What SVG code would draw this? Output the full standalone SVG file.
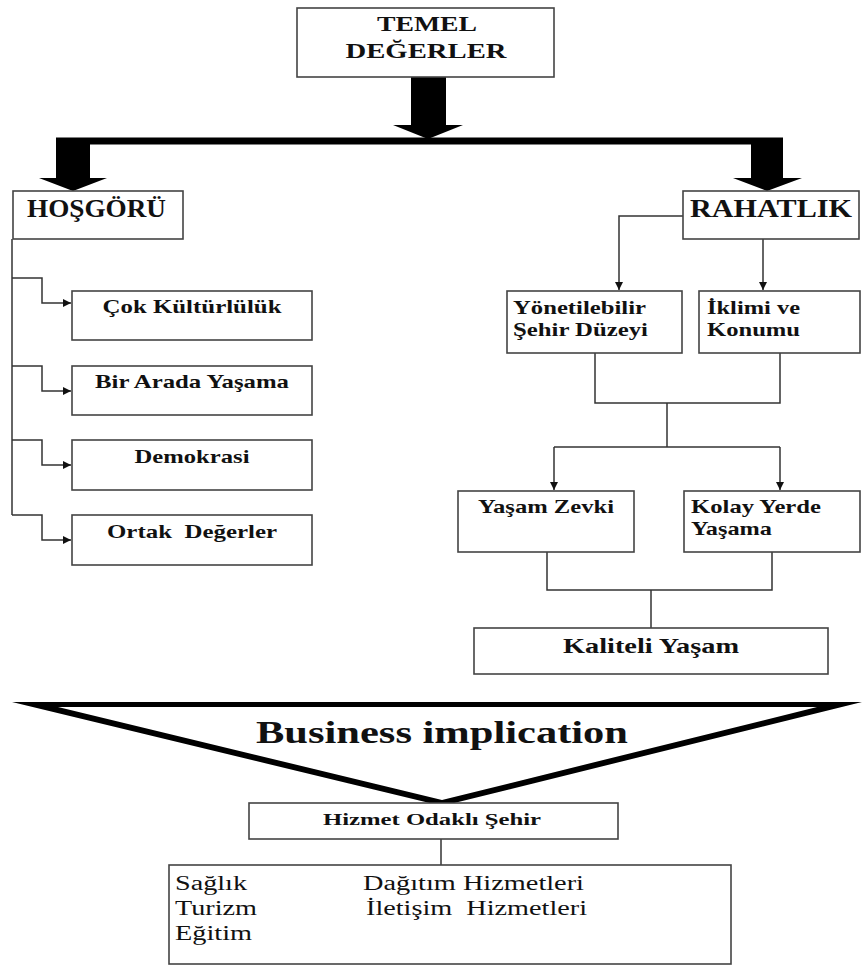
<svg xmlns="http://www.w3.org/2000/svg" width="862" height="966" viewBox="0 0 862 966">
<style>
.box{fill:#fff;stroke:#444;stroke-width:1.6}
.ln{fill:none;stroke:#333;stroke-width:1.5}
.b{font-family:"Liberation Serif","Times New Roman",serif;font-weight:bold;fill:#111}
.r{font-family:"Liberation Serif","Times New Roman",serif;fill:#111}
</style>
<defs>
<marker id="ah" viewBox="0 0 10 10" refX="10" refY="5" markerWidth="8" markerHeight="8" markerUnits="userSpaceOnUse" orient="auto">
<path d="M0,0 L10,5 L0,10 Z" fill="#111"/>
</marker>
</defs>
<rect width="862" height="966" fill="#fff"/>

<g id="connectors">
<path d="M411,77 H446 V125 H463 L428,139 L393,125 H411 Z" fill="#000"/>
<rect x="56" y="137.5" width="727" height="7" fill="#000"/>
<path d="M56,138 H90 V178 H107 L73,191 L39,178 H56 Z" fill="#000"/>
<path d="M751,138 H783 V178 H802 L767,191 L733,178 H751 Z" fill="#000"/>
<path class="ln" d="M12,239 V515"/>
<path class="ln" d="M12,278 H42 V303 H71" marker-end="url(#ah)"/>
<path class="ln" d="M12,366 H42 V391 H71" marker-end="url(#ah)"/>
<path class="ln" d="M12,440 H42 V465 H71" marker-end="url(#ah)"/>
<path class="ln" d="M12,515 H42 V540 H71" marker-end="url(#ah)"/>
<path class="ln" d="M683,216 H619 V290" marker-end="url(#ah)"/>
<path class="ln" d="M763,239 V290" marker-end="url(#ah)"/>
<path class="ln" d="M595,353 V403 H780 V353"/>
<path class="ln" d="M667,403 V447"/>
<path class="ln" d="M554,447 H780"/>
<path class="ln" d="M554,447 V490" marker-end="url(#ah)"/>
<path class="ln" d="M780,447 V490" marker-end="url(#ah)"/>
<path class="ln" d="M547,552 V590 H772 V552"/>
<path class="ln" d="M651,590 V628"/>
<path class="ln" d="M441,839 V865"/>
</g>

<g id="temel">
<rect class="box" x="297" y="8" width="257" height="69"/>
<text class="b" x="427" y="31" font-size="22" text-anchor="middle" textLength="100" lengthAdjust="spacingAndGlyphs">TEMEL</text>
<text class="b" x="426" y="58" font-size="22" text-anchor="middle" textLength="161" lengthAdjust="spacingAndGlyphs">DEĞERLER</text>
</g>

<g id="hosgoru">
<rect class="box" x="13" y="191" width="170" height="48"/>
<text class="b" x="27" y="217" font-size="26" textLength="139" lengthAdjust="spacingAndGlyphs">HOŞGÖRÜ</text>
</g>

<g id="rahatlik">
<rect class="box" x="683" y="191" width="176" height="48"/>
<text class="b" x="690" y="217" font-size="26" textLength="162" lengthAdjust="spacingAndGlyphs">RAHATLIK</text>
</g>

<g id="cok-kulturluluk">
<rect class="box" x="72" y="291" width="240" height="49"/>
<text class="b" x="192" y="313" font-size="19" text-anchor="middle" textLength="179" lengthAdjust="spacingAndGlyphs">Çok Kültürlülük</text>
</g>
<g id="bir-arada">
<rect class="box" x="72" y="366" width="240" height="49"/>
<text class="b" x="192" y="388" font-size="19" text-anchor="middle" textLength="194" lengthAdjust="spacingAndGlyphs">Bir Arada Yaşama</text>
</g>
<g id="demokrasi">
<rect class="box" x="72" y="440" width="240" height="50"/>
<text class="b" x="192" y="463" font-size="19" text-anchor="middle" textLength="115" lengthAdjust="spacingAndGlyphs">Demokrasi</text>
</g>
<g id="ortak">
<rect class="box" x="72" y="515" width="240" height="50"/>
<text class="b" x="192" y="538" font-size="19" text-anchor="middle" textLength="170" lengthAdjust="spacingAndGlyphs" xml:space="preserve">Ortak  Değerler</text>
</g>

<g id="yonetilebilir">
<rect class="box" x="507" y="291" width="175" height="62"/>
<text class="b" x="513" y="314" font-size="19" textLength="133" lengthAdjust="spacingAndGlyphs">Yönetilebilir</text>
<text class="b" x="513" y="336" font-size="19" textLength="135" lengthAdjust="spacingAndGlyphs">Şehir Düzeyi</text>
</g>
<g id="iklimi">
<rect class="box" x="699" y="291" width="161" height="62"/>
<text class="b" x="707" y="314" font-size="19" textLength="93" lengthAdjust="spacingAndGlyphs">İklimi ve</text>
<text class="b" x="707" y="336" font-size="19" textLength="93" lengthAdjust="spacingAndGlyphs">Konumu</text>
</g>
<g id="yasam-zevki">
<rect class="box" x="458" y="491" width="176" height="61"/>
<text class="b" x="546" y="513" font-size="19" text-anchor="middle" textLength="136" lengthAdjust="spacingAndGlyphs">Yaşam Zevki</text>
</g>
<g id="kolay-yerde">
<rect class="box" x="684" y="491" width="176" height="61"/>
<text class="b" x="691" y="513" font-size="19" textLength="130" lengthAdjust="spacingAndGlyphs">Kolay Yerde</text>
<text class="b" x="691" y="535" font-size="19" textLength="81" lengthAdjust="spacingAndGlyphs">Yaşama</text>
</g>
<g id="kaliteli">
<rect class="box" x="474" y="628" width="354" height="46"/>
<text class="b" x="651" y="653" font-size="22" text-anchor="middle" textLength="176" lengthAdjust="spacingAndGlyphs">Kaliteli Yaşam</text>
</g>

<g id="business">
<path d="M12,702 H862 L442,806 Z M58,707 L442,800 L817,707 Z" fill="#000" fill-rule="evenodd"/>
<text class="b" x="442" y="743" font-size="31" text-anchor="middle" textLength="372" lengthAdjust="spacingAndGlyphs">Business implication</text>
</g>

<g id="hizmet">
<rect class="box" x="249" y="803" width="369" height="36"/>
<text class="b" x="432" y="825" font-size="17" text-anchor="middle" textLength="218" lengthAdjust="spacingAndGlyphs">Hizmet Odaklı Şehir</text>
</g>

<g id="hizmetler">
<rect class="box" x="169" y="865" width="562" height="99"/>
<text class="r" x="175" y="890" font-size="20" textLength="72" lengthAdjust="spacingAndGlyphs">Sağlık</text>
<text class="r" x="175" y="915" font-size="20" textLength="82" lengthAdjust="spacingAndGlyphs">Turizm</text>
<text class="r" x="175" y="940" font-size="20" textLength="77" lengthAdjust="spacingAndGlyphs">Eğitim</text>
<text class="r" x="363" y="890" font-size="20" textLength="221" lengthAdjust="spacingAndGlyphs">Dağıtım Hizmetleri</text>
<text class="r" x="366" y="915" font-size="20" textLength="221" lengthAdjust="spacingAndGlyphs" xml:space="preserve">İletişim  Hizmetleri</text>
</g>
</svg>
